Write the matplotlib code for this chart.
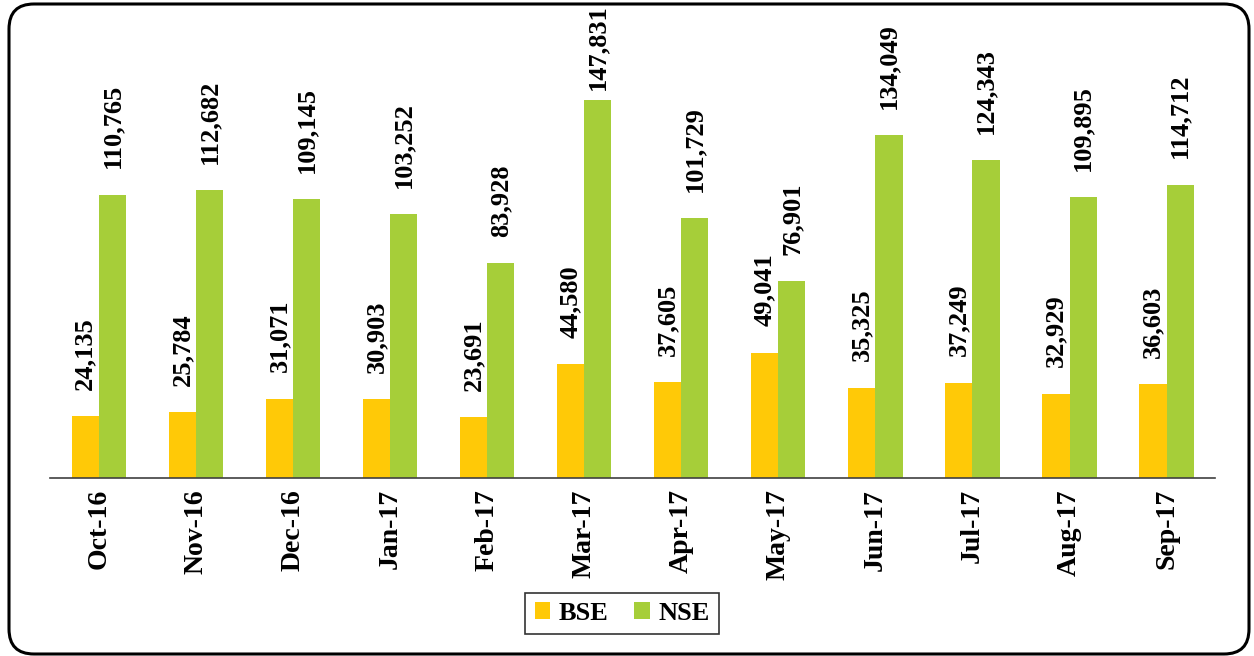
import matplotlib.pyplot as plt
import numpy as np
from matplotlib.patches import FancyBboxPatch

months = ['Oct-16', 'Nov-16', 'Dec-16', 'Jan-17', 'Feb-17', 'Mar-17',
          'Apr-17', 'May-17', 'Jun-17', 'Jul-17', 'Aug-17', 'Sep-17']
bse = [24135, 25784, 31071, 30903, 23691, 44580,
       37605, 49041, 35325, 37249, 32929, 36603]
nse = [110765, 112682, 109145, 103252, 83928, 147831,
       101729, 76901, 134049, 124343, 109895, 114712]

plt.rcParams['font.family'] = ['Liberation Serif', 'DejaVu Serif']

fig = plt.figure(figsize=(12.54, 6.56), dpi=100)
ax = fig.add_axes([0.040, 0.2713, 0.929, 0.604])

x = np.arange(len(months))
w = 0.28
bars_b = ax.bar(x - w / 2, bse, w, color='#FFC907', label='BSE')
bars_n = ax.bar(x + w / 2, nse, w, color='#A6CE39', label='NSE')

# value labels, the tallest one sits closer to its bar
for bars, vals in ((bars_b, bse), (bars_n, nse)):
    for b, v in zip(bars, vals):
        off = 7 if v == max(nse) else 19
        ax.annotate(f'{v:,}', (b.get_x() + b.get_width() / 2, v),
                    xytext=(0, off), textcoords='offset points',
                    rotation=90, ha='center', va='bottom',
                    fontsize=19, fontweight='bold', annotation_clip=False)

ax.set_xlim(-0.5, len(months) - 0.5)
ax.set_ylim(0, 155000)
ax.set_xticks(x)
ax.set_xticklabels(months, rotation=90, fontsize=20, fontweight='bold')
ax.tick_params(axis='x', length=0, pad=8)
ax.set_yticks([])
for s in ['top', 'left', 'right']:
    ax.spines[s].set_visible(False)
ax.spines['bottom'].set_color('#404040')
ax.spines['bottom'].set_linewidth(1.2)

leg = fig.legend(loc='lower center', bbox_to_anchor=(0.496, 0.0335), ncol=2,
                 prop={'size': 19, 'weight': 'bold'}, frameon=True,
                 fancybox=False, edgecolor='black', handlelength=0.6,
                 handleheight=0.6, handletextpad=0.3, columnspacing=1.0,
                 borderpad=0.35, borderaxespad=0)
leg.get_frame().set_linewidth(1.2)

border = FancyBboxPatch((0.09, 0.02), 12.40, 6.50,
                        boxstyle='round,pad=0,rounding_size=0.25',
                        transform=fig.dpi_scale_trans, fill=False,
                        edgecolor='black', linewidth=2.2)
fig.patches.append(border)

fig.savefig('out.png', dpi=100)
